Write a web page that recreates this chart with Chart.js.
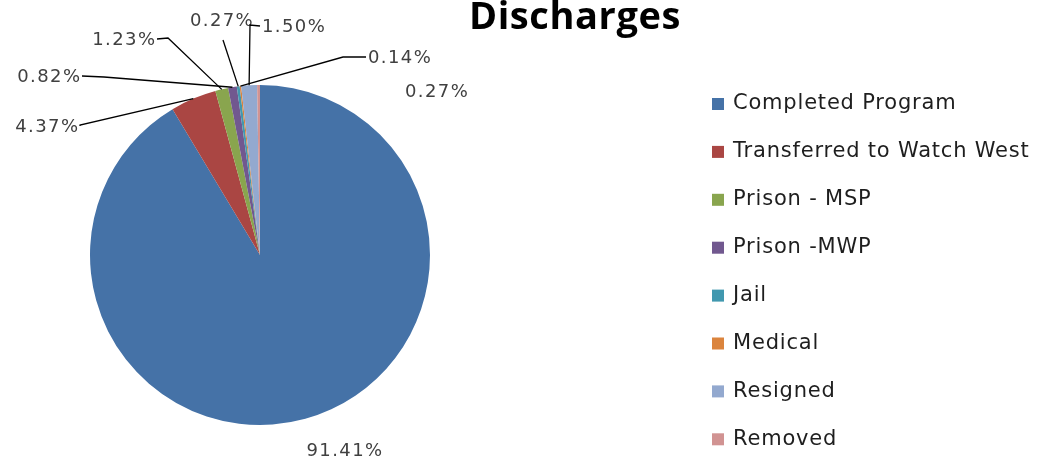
<!DOCTYPE html>
<html>
<head>
<meta charset="utf-8">
<script src="https://cdn.jsdelivr.net/npm/chart.js@4/dist/chart.umd.min.js"></script>
<style>
  html, body { margin: 0; padding: 0; background: #fff; }
  #wrap { width: 1037px; height: 462px; }
</style>
</head>
<body>
<div id="wrap"><canvas id="chart1"></canvas></div>
<script>
// data
const categories = ['Completed Program', 'Transferred to Watch West', 'Prison - MSP', 'Prison -MWP',
                    'Jail', 'Medical', 'Resigned', 'Removed'];
const percents = [91.41, 4.37, 1.23, 0.82, 0.27, 0.14, 1.50, 0.27];
const chartTitle = 'Discharges';

// styling
const sliceColors = ['#4572A7', '#AA4643', '#89A54E', '#71588F', '#4198AF', '#DB843D', '#93A9CF', '#D19392'];
const textFont = '"DejaVu Sans", sans-serif';
// where each data label sits (align, text point, optional elbow for the leader line)
const labelSpots = [
    { x: 345, y: 451, align: 'center', line: false },
    { x: 78, y: 127, align: 'right', line: true, elbow: [80, 125] },
    { x: 155, y: 40, align: 'right', line: true, elbow: [168, 38] },
    { x: 80, y: 77, align: 'right', line: true, elbow: [104, 77] },
    { x: 222, y: 21, align: 'center', line: true, start: [223, 40] },
    { x: 368, y: 58, align: 'left', line: true, elbow: [343, 57] },
    { x: 262, y: 27, align: 'left', line: true, elbow: [250, 25] },
    { x: 405, y: 92, align: 'left', line: false }
];

const extras = {
    id: 'extras',
    afterDraw(chart) {
        const ctx = chart.ctx;
        const arcs = chart.getDatasetMeta(0).data;
        ctx.save();

        // title
        ctx.fillStyle = '#000';
        ctx.font = 'bold 38px "Open Sans", sans-serif';
        ctx.letterSpacing = '0.6px';
        ctx.textAlign = 'center';
        ctx.textBaseline = 'alphabetic';
        ctx.fillText(chartTitle, 575, 29);

        // data labels + leader lines
        ctx.font = '18px ' + textFont;
        ctx.letterSpacing = '1.4px';
        ctx.textBaseline = 'middle';
        arcs.forEach((arc, i) => {
            const spot = labelSpots[i];
            const txt = percents[i].toFixed(2) + '%';
            ctx.fillStyle = '#404040';
            ctx.textAlign = spot.align;
            const tx = spot.align === 'right' ? spot.x + 1.4 : spot.x;
            ctx.fillText(txt, tx, spot.y);
            if (!spot.line) return;
            const p = arc.getProps(['x', 'y', 'startAngle', 'endAngle', 'outerRadius'], true);
            const mid = (p.startAngle + p.endAngle) / 2;
            const ax = p.x + Math.cos(mid) * p.outerRadius;
            const ay = p.y + Math.sin(mid) * p.outerRadius;
            ctx.strokeStyle = '#000';
            ctx.lineWidth = 1.3;
            ctx.beginPath();
            if (spot.start) {
                ctx.moveTo(spot.start[0], spot.start[1]);
            } else {
                const sx = spot.align === 'right' ? spot.x + 2 : spot.x - 2;
                ctx.moveTo(sx, spot.y - 1);
                ctx.lineTo(spot.elbow[0], spot.elbow[1]);
            }
            ctx.lineTo(ax, ay);
            ctx.stroke();
        });

        // legend
        ctx.font = '21px ' + textFont;
        ctx.letterSpacing = '0.8px';
        ctx.textAlign = 'left';
        categories.forEach((name, i) => {
            const y = 104 + i * 47.9;
            ctx.fillStyle = sliceColors[i];
            ctx.fillRect(712, y - 6, 12, 12);
            ctx.fillStyle = '#1e1e1e';
            ctx.fillText(name, 733, y);
        });
        ctx.restore();
    }
};

new Chart(document.getElementById('chart1'), {
    type: 'pie',
    data: {
        labels: categories,
        datasets: [{
            data: percents,
            backgroundColor: sliceColors,
            borderWidth: 0,
            hoverOffset: 0
        }]
    },
    options: {
        responsive: true,
        maintainAspectRatio: false,
        animation: false,
        events: [],
        layout: { padding: { left: 90, right: 607, top: 85, bottom: 37 } },
        plugins: {
            legend: { display: false },
            title: { display: false },
            tooltip: { enabled: false }
        }
    },
    plugins: [extras]
});
</script>
</body>
</html>
